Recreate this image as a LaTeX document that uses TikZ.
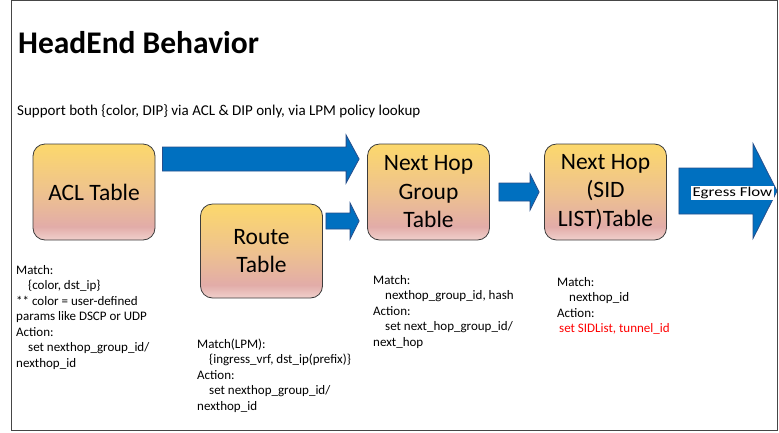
\documentclass[tikz,border=0pt]{standalone}
\usepackage{fontspec}
\setmainfont{Carlito}
\usetikzlibrary{calc, positioning}

\definecolor{fadetop}{RGB}{252,216,108}
\definecolor{fademid}{RGB}{238,194,142}
\definecolor{fadepink}{RGB}{226,172,168}
\definecolor{fadebot}{RGB}{240,208,204}
\definecolor{boxline}{RGB}{60,60,60}
\definecolor{flowblue}{RGB}{0,112,192}
\definecolor{flowline}{RGB}{38,78,140}
\definecolor{framegray}{RGB}{70,70,70}

\pgfdeclareverticalshading{tablefade}{100bp}{color(0bp)=(fadebot); color(25bp)=(fadebot); color(32bp)=(fadepink); color(50bp)=(fademid); color(75bp)=(fadetop); color(100bp)=(fadetop)}

% block arrow: start, tip, half body, half head, head length
\newcommand{\blockarrow}[5]{%
  \draw[flow] ($(#1)+(0,-#3)$) -- ($(#2)+(-#5,-#3)$) -- ($(#2)+(-#5,-#4)$) -- (#2)
    -- ($(#2)+(-#5,#4)$) -- ($(#2)+(-#5,#3)$) -- ($(#1)+(0,#3)$) -- cycle;}

\begin{document}
\begin{tikzpicture}[x=1pt, y=-1pt,
    tablebox/.style={draw=boxline, line width=0.8pt, rounded corners=12pt, shading=tablefade, minimum width=122pt, minimum height=96pt, inner sep=2pt, align=center, font=\fontsize{23.5}{28.5}\selectfont},
    note/.style={anchor=base west, align=left, inner sep=0pt, font=\fontsize{13}{15.5}\selectfont},
    flow/.style={draw=flowline, fill=flowblue, line width=0.8pt, line join=miter}]

        \useasboundingbox (0,0) rectangle (779,432);

        % ------------------ Frame and headings ------------------

        \draw[framegray, line width=1pt] (11,0.8) rectangle (777,430);

        \node[anchor=base west, inner sep=0pt, font=\fontsize{31.5}{36}\selectfont\bfseries] (title) at (18,53) {HeadEnd Behavior};
        \node[anchor=base west, inner sep=0pt, font=\fontsize{15}{18}\selectfont] (summary) at (17,115) {Support both \{color, DIP\} via ACL \& DIP only, via LPM policy lookup};

        % ------------------ Tables ------------------

        \node[tablebox] (acl) at (94,192) {ACL Table};
        \node[tablebox, minimum height=94pt] (route) at (261.5,251) {Route\\Table};
        \node[tablebox] (nhg) at (428.5,192) {Next Hop\\Group\\Table};
        \node[tablebox] (sid) at (605.5,192) {Next Hop\\(SID\\LIST)Table};

        % ------------------ Flow arrows ------------------

        \coordinate (aclout) at ($(acl.east)+(7,-33)$);
        \coordinate (nhgin1) at ($(nhg.west |- aclout)+(-8,0)$);
        \coordinate (routeout) at ($(route.east)+(3,-30)$);
        \coordinate (nhgin2) at ($(nhg.west |- routeout)+(-8,0)$);
        \coordinate (nhgout) at ($(nhg.east)+(9,0)$);
        \coordinate (sidin) at ($(sid.west)+(-5,0)$);
        \coordinate (sidout) at ($(sid.east)+(12,-1)$);
        \coordinate (egress) at (777,191);

        \blockarrow{aclout}{nhgin1}{12}{24}{13}
        \blockarrow{routeout}{nhgin2}{8}{18}{9}
        \blockarrow{nhgout}{sidin}{9}{18}{9}
        \blockarrow{sidout}{egress}{23}{47.5}{24}

        \node[fill=white, inner sep=1pt, xscale=1.25, anchor=west, font=\fontsize{13.5}{15}\selectfont] (egresslbl) at (691,193) {Egress Flow};

        % ------------------ Match / Action notes (placed by last line) ------------------

        \node[note] (aclnote) at (16,367) {Match:\\\hspace*{12pt}\{color, dst\_ip\}\\** color = user-defined\\params like DSCP or UDP\\Action:\\\hspace*{12pt}set nexthop\_group\_id/\\nexthop\_id};

        \node[note] (routenote) at (197,410) {Match(LPM):\\\hspace*{12pt}\{ingress\_vrf, dst\_ip(prefix)\}\\Action:\\\hspace*{12pt}set nexthop\_group\_id/\\nexthop\_id};

        \node[note] (nhgnote) at (373,346) {Match:\\\hspace*{12pt}nexthop\_group\_id, hash\\Action:\\\hspace*{12pt}set next\_hop\_group\_id/\\next\_hop};

        \node[note] (sidnote) at (557,332.5) {Match:\\\hspace*{12pt}nexthop\_id\\Action:\\\hspace*{2pt}\textcolor{red}{set SIDList, tunnel\_id}};

    \end{tikzpicture}
\end{document}
